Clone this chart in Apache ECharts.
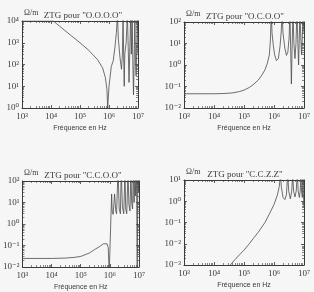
<!DOCTYPE html>
<html><head><meta charset="utf-8">
<script src="https://cdn.jsdelivr.net/npm/echarts@6/dist/echarts.min.js"></script>
<style>html,body{margin:0;padding:0;background:#f6f6f6}#c{width:314px;height:292px}</style>
</head><body><div id="c"></div>
<script>
// ---- text ----
const panelTitles = ['ZTG pour "O.O.O.O"', 'ZTG pour "O.C.O.O"', 'ZTG pour "C.C.O.O"', 'ZTG pour "C.C.Z.Z"'];
const unitLabel = 'Ω/m';
const xAxisName = 'Fréquence en Hz';
// ---- axis tick exponents (labels 10^n) ----
const xTickExp = [3, 4, 5, 6, 7];
const yTickExp1 = [0, 1, 2, 3, 4];
const yTickExp2 = [-2, -1, 0, 1, 2];
const yTickExp3 = [-2, -1, 0, 1, 2];
const yTickExp4 = [-3, -2, -1, 0, 1];

// ---- data: frequency (Hz) and impedance (Ω/m) ----
const freq1 = [1e3, 5e3, 1.2e4, 2e4, 5e4, 1e5, 2e5, 4e5, 6e5, 7.5e5, 8.5e5, 9e5, 1e6, 1.2e6, 1.4e6, 1.6e6, 1.8e6, 1.95e6, 2.1e6, 2.4e6, 2.7e6, 2.9e6, 3.05e6, 3.2e6, 3.35e6, 3.5e6, 3.9e6, 4.3e6, 4.6e6, 4.9e6, 5.2e6, 5.6e6, 5.9e6, 6.3e6, 6.6e6, 7e6, 7.4e6, 7.8e6, 8.2e6, 8.6e6, 9e6, 9.5e6, 1e7];
const zt1   = [1e4, 1e4, 1e4, 5700, 2100, 1000, 450, 170, 70, 25, 7, 1, 10, 80, 150, 600, 3000, 2e4, 1500, 200, 60, 300, 2e4, 300, 10, 300, 1000, 2e4, 600, 15, 400, 2e4, 300, 2e4, 200, 4, 200, 2e4, 150, 30, 400, 2e4, 300];

const freq2 = [1e3, 3e3, 1e4, 2e4, 4e4, 7e4, 1e5, 1.5e5, 2e5, 3e5, 4e5, 5e5, 6e5, 7e5, 7.6e5, 8.1e5, 8.6e5, 9.5e5, 1.05e6, 1.2e6, 1.4e6, 1.6e6, 1.75e6, 1.85e6, 2.0e6, 2.3e6, 2.6e6, 2.9e6, 3.2e6, 3.4e6, 3.6e6, 3.8e6, 4.0e6, 4.3e6, 4.6e6, 5e6, 5.4e6, 5.8e6, 6.2e6, 6.6e6, 6.9e6, 7.3e6, 7.8e6, 8.3e6, 8.8e6, 9.3e6, 1e7];
const zt2   = [0.046, 0.046, 0.046, 0.047, 0.05, 0.058, 0.068, 0.09, 0.12, 0.2, 0.35, 0.6, 1.2, 3, 15, 300, 30, 8, 3, 1.6, 2, 8, 40, 300, 30, 6, 2.8, 4, 20, 300, 5, 0.13, 5, 300, 10, 2, 10, 300, 15, 1, 10, 300, 20, 3, 20, 300, 30];

const freq3 = [1e3, 1e4, 3e4, 6e4, 1e5, 2e5, 3e5, 4.5e5, 6e5, 7e5, 8e5, 8.8e5, 9.5e5, 1.1e6, 1.15e6, 1.2e6, 1.3e6, 1.45e6, 1.6e6, 1.7e6, 1.9e6, 2.1e6, 2.3e6, 2.45e6, 2.7e6, 3e6, 3.3e6, 3.5e6, 3.8e6, 4.2e6, 4.5e6, 4.9e6, 5.3e6, 5.6e6, 6e6, 6.4e6, 6.8e6, 7.3e6, 7.7e6, 8.2e6, 8.7e6, 9.1e6, 9.5e6, 1e7];
const zt3   = [0.025, 0.025, 0.026, 0.028, 0.031, 0.045, 0.065, 0.09, 0.12, 0.13, 0.12, 0.08, 0.005, 0.005, 25, 4, 2.8, 25, 4, 3, 300, 5, 3, 300, 6, 3, 300, 5, 3, 300, 8, 4, 300, 10, 5, 300, 10, 300, 20, 300, 0.005, 300, 30, 300];

const freq4 = [3.5e4, 5e4, 7e4, 1e5, 1.5e5, 2e5, 3e5, 5e5, 7e5, 1e6, 1.3e6, 1.5e6, 1.65e6, 1.75e6, 2e6, 2.3e6, 2.6e6, 2.85e6, 3.1e6, 3.5e6, 3.9e6, 4.2e6, 4.5e6, 5e6, 5.5e6, 6e6, 6.4e6, 7e6, 7.5e6, 7.9e6, 8.3e6, 8.8e6, 9.3e6, 9.6e6, 1e7];
const zt4   = [0.001, 0.0018, 0.003, 0.005, 0.01, 0.017, 0.035, 0.1, 0.25, 0.7, 2, 5, 20, 5, 1.5, 1.2, 2, 20, 3, 1.3, 3, 20, 3, 1.6, 3, 20, 3, 1.5, 3, 20, 3, 1.5, 20, 2, 0.5];

const SUP = {'-':'⁻','0':'⁰','1':'¹','2':'²','3':'³','4':'⁴','5':'⁵','6':'⁶','7':'⁷','8':'⁸','9':'⁹'};
const pow10 = e => '10' + String(e).split('').map(c => SUP[c]).join('');

const grids = [
  {left: 22, top: 21, width: 116, height: 87},
  {left: 184, top: 22, width: 120, height: 86},
  {left: 22, top: 181, width: 117, height: 86},
  {left: 184, top: 180, width: 120, height: 85}
];
const yExps = [yTickExp1, yTickExp2, yTickExp3, yTickExp4];
const freqs = [freq1, freq2, freq3, freq4];
const zts = [zt1, zt2, zt3, zt4];

const ink = '#3a3a3a';
const serif = '"Liberation Serif","DejaVu Serif",serif';
const sans = '"Liberation Sans","DejaVu Sans",sans-serif';

const xAxes = [], yAxes = [], series = [], graphic = [];
grids.forEach((g, i) => {
  const ye = yExps[i];
  const common = {
    type: 'log', logBase: 10, gridIndex: i,
    axisLine: {show: true, lineStyle: {color: ink, width: 1}},
    axisTick: {show: true, inside: true, length: 3, lineStyle: {color: ink, width: 0.8}},
    minorTick: {show: true, splitNumber: 9, length: 2, lineStyle: {color: ink, width: 0.6}},
    splitLine: {show: false}, minorSplitLine: {show: false}
  };
  xAxes.push(Object.assign({}, common, {
    position: 'bottom', min: Math.pow(10, xTickExp[0]), max: Math.pow(10, xTickExp[xTickExp.length - 1]),
    splitNumber: xTickExp.length - 1,
    axisLabel: {show: true, margin: 4, color: ink, fontFamily: serif, fontSize: 9,
      formatter: v => pow10(Math.round(Math.log10(v)))},
    name: xAxisName, nameLocation: 'middle', nameGap: 17,
    nameTextStyle: {fontFamily: sans, fontSize: 7, color: ink}
  }));
  xAxes.push(Object.assign({}, common, {
    position: 'top', min: Math.pow(10, xTickExp[0]), max: Math.pow(10, xTickExp[xTickExp.length - 1]),
    splitNumber: xTickExp.length - 1, axisLabel: {show: false}
  }));
  yAxes.push(Object.assign({}, common, {
    position: 'left', min: Math.pow(10, ye[0]), max: Math.pow(10, ye[ye.length - 1]),
    splitNumber: ye.length - 1,
    axisLabel: {show: true, margin: 3, color: ink, fontFamily: serif, fontSize: 9,
      formatter: v => pow10(Math.round(Math.log10(v)))}
  }));
  yAxes.push(Object.assign({}, common, {
    position: 'right', min: Math.pow(10, ye[0]), max: Math.pow(10, ye[ye.length - 1]),
    splitNumber: ye.length - 1, axisLabel: {show: false}
  }));
  series.push({
    type: 'line', xAxisIndex: 2 * i, yAxisIndex: 2 * i, showSymbol: false, clip: true,
    lineStyle: {color: '#4a4a4a', width: 0.8}, animation: false,
    data: freqs[i].map((f, k) => [f, zts[i][k]])
  });
  graphic.push({type: 'text', x: g.left + 2, y: g.top - 8,
    style: {text: unitLabel, font: '8px ' + serif, fill: ink, textAlign: 'left', textVerticalAlign: 'middle'}});
  graphic.push({type: 'text', x: g.left + 61, y: g.top - 5,
    style: {text: panelTitles[i], font: '9px ' + serif, fill: ink, textAlign: 'center', textVerticalAlign: 'middle'}});
});

const chart = echarts.init(document.getElementById('c'), null, {renderer: 'canvas'});
chart.setOption({
  backgroundColor: '#f6f6f6',
  animation: false,
  grid: grids,
  xAxis: xAxes,
  yAxis: yAxes,
  series: series,
  graphic: graphic
});
</script></body></html>
